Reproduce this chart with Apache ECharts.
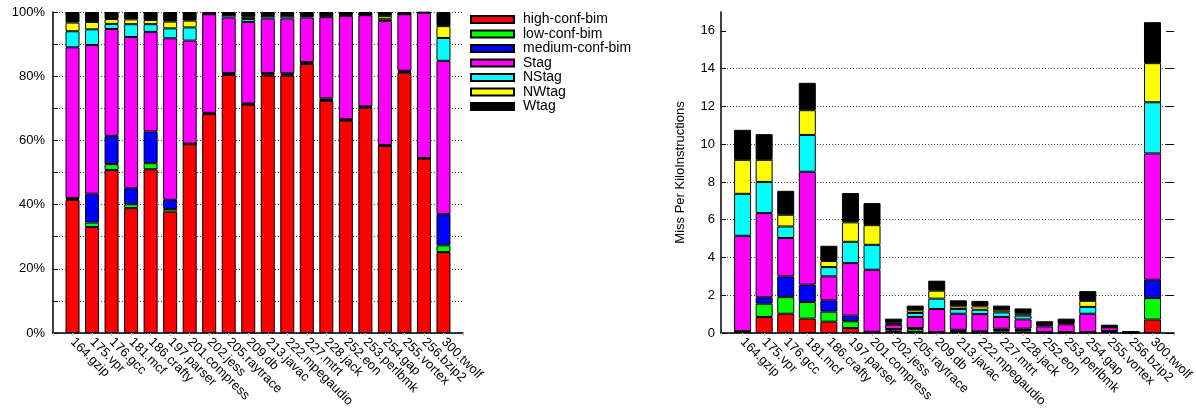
<!DOCTYPE html>
<html>
<head>
<meta charset="utf-8">
<script src="https://cdn.jsdelivr.net/npm/echarts@6/dist/echarts.min.js"></script>
<style>
html,body{margin:0;padding:0;background:#fff;}
#c{width:1196px;height:415px;}
</style>
</head>
<body>
<div id="c"></div>
<script>
// Categories (benchmarks)
const categories = ['164.gzip','175.vpr','176.gcc','181.mcf','186.crafty','197.parser','201.compress','202.jess','205.raytrace','209.db','213.javac','222.mpegaudio','227.mtrt','228.jack','252.eon','253.perlbmk','254.gap','255.vortex','256.bzip2','300.twolf'];

const seriesNames = ['high-conf-bim','low-conf-bim','medium-conf-bim','Stag','NStag','NWtag','Wtag'];
const seriesColors = ['#ff0000','#00ff00','#0000ff','#ff00ff','#00ffff','#ffff00','#000000'];

// Left chart: percentage breakdown (%)
const pctHighConfBim   = [41.5,33.0,50.8,38.9,51.0,37.8,58.8,68.2,80.4,71.1,80.2,80.2,83.8,72.3,66.2,70.2,58.3,81.1,54.3,25.2];
const pctLowConfBim    = [0.3,1.4,1.8,1.2,1.9,0.8,0.1,0.2,0.2,0.2,0.3,0.3,0.3,0.2,0.2,0.2,0.1,0.3,0.1,2.1];
const pctMediumConfBim = [0.2,9.0,8.8,5.0,9.9,2.9,0.1,0.2,0.4,0.2,0.5,0.4,0.3,0.6,0.2,0.2,0.2,0.3,0.1,9.7];
const pctStag          = [47.0,46.3,33.3,47.1,31.0,50.3,32.1,30.7,17.3,25.4,17.0,17.1,13.9,25.3,32.2,28.4,38.6,17.6,45.3,47.8];
const pctNStag         = [5.0,4.9,1.6,4.0,2.4,3.1,4.1,0.1,0.8,0.9,0.8,0.8,0.5,0.6,0.3,0.2,0.7,0.1,0.0,7.1];
const pctNWtag         = [2.7,2.3,1.5,1.5,1.3,2.1,2.1,0.1,0.1,0.7,0.2,0.2,0.1,0.1,0.1,0.1,0.9,0.1,0.0,3.7];
const pctWtag          = [3.3,3.1,2.2,2.3,2.5,3.0,2.7,0.5,0.8,1.5,1.0,1.0,1.1,0.9,0.8,0.7,1.2,0.5,0.2,4.4];

// Right chart: misses per kilo-instructions
const mpkiHighConfBim   = [0.05,0.85,1.02,0.76,0.60,0.26,0.02,0.05,0.05,0.03,0.06,0.03,0.08,0.08,0.02,0.02,0.02,0.05,0.01,0.71];
const mpkiLowConfBim    = [0.02,0.70,0.88,0.88,0.53,0.36,0.02,0.08,0.15,0.01,0.05,0.03,0.08,0.07,0.01,0.01,0.01,0.03,0.00,1.14];
const mpkiMediumConfBim = [0.03,0.34,1.10,0.92,0.60,0.30,0.02,0.08,0.06,0.01,0.06,0.03,0.07,0.08,0.02,0.02,0.02,0.03,0.00,0.97];
const mpkiStag          = [5.05,4.46,2.03,5.98,1.27,2.78,3.29,0.23,0.59,1.22,0.85,0.91,0.62,0.49,0.30,0.41,0.97,0.19,0.03,6.69];
const mpkiNStag         = [2.22,1.65,0.61,1.95,0.49,1.13,1.32,0.06,0.21,0.55,0.25,0.23,0.24,0.20,0.07,0.06,0.36,0.02,0.01,2.71];
const mpkiNWtag         = [1.80,1.17,0.62,1.31,0.32,1.03,1.04,0.05,0.14,0.42,0.14,0.18,0.11,0.10,0.03,0.02,0.32,0.01,0.00,2.07];
const mpkiWtag          = [1.59,1.36,1.27,1.45,0.81,1.55,1.17,0.21,0.25,0.53,0.32,0.29,0.25,0.28,0.17,0.22,0.52,0.11,0.03,2.17];

// Tick labels
const pctTickValues = [0,20,40,60,80,100];
const mpkiTickValues = [0,2,4,6,8,10,12,14,16];
const yTitleRight = 'Miss Per KiloInstructions';

const leftData = [pctHighConfBim,pctLowConfBim,pctMediumConfBim,pctStag,pctNStag,pctNWtag,pctWtag];
const rightData = [mpkiHighConfBim,mpkiLowConfBim,mpkiMediumConfBim,mpkiStag,mpkiNStag,mpkiNWtag,mpkiWtag];

// the x range spans one empty slot before the first and after the last benchmark
const axisCategories = [''].concat(categories, ['']);

const FONT = 'Liberation Sans, Arial, Helvetica, sans-serif';
const gridDot = {color:'#444', width:1, type:[1,2]};

function xAxisFor(gi){
  return {
    type:'category', gridIndex:gi, data:axisCategories, boundaryGap:false,
    axisLine:{show:true, onZero:false, lineStyle:{color:'#000', width:1.5}},
    axisTick:{show:true, length:3, interval:0, lineStyle:{color:'#bbb'}},
    axisLabel:{rotate:-45, fontSize:13, color:'#000', margin:7, fontFamily:FONT, interval:0},
    splitLine:{show:false}
  };
}

const series = [];
seriesNames.forEach((name, k)=>{
  series.push({
    name, type:'bar', xAxisIndex:0, yAxisIndex:0, stack:'L', barWidth:14,
    itemStyle:{color:seriesColors[k], borderColor:'#000', borderWidth:1},
    data: leftData[k].map((v,i)=>[i+1,v])
  });
});
seriesNames.forEach((name, k)=>{
  series.push({
    name, type:'bar', xAxisIndex:1, yAxisIndex:1, stack:'R', barWidth:17,
    itemStyle:{color:seriesColors[k], borderColor:'#000', borderWidth:1},
    data: rightData[k].map((v,i)=>[i+1,v])
  });
});

const chart = echarts.init(document.getElementById('c'), null, {renderer:'canvas'});
chart.setOption({
  animation:false,
  backgroundColor:'#fff',
  textStyle:{fontFamily:FONT},
  legend:{
    data:seriesNames, orient:'vertical', left:470, top:12.5, padding:0,
    itemWidth:43, itemHeight:7, itemGap:0.5, icon:'rect', selectedMode:false,
    textStyle:{fontSize:14, lineHeight:13, color:'#000', fontFamily:FONT, padding:[0,0,0,4]}
  },
  grid:[
    {left:53, top:12, width:410, height:321},
    {left:721, top:12, width:459, height:321}
  ],
  xAxis:[xAxisFor(0), xAxisFor(1)],
  yAxis:[
    {
      type:'value', gridIndex:0, min:0, max:100, interval:10,
      axisLine:{show:true, onZero:false, lineStyle:{color:'#000', width:1.5}},
      axisTick:{show:true, inside:true, length:5, lineStyle:{color:'#000'}},
      axisLabel:{fontSize:13, color:'#000', margin:8, fontFamily:FONT,
        formatter:(v)=> (pctTickValues.indexOf(v) >= 0 ? v + '%' : '')},
      splitLine:{show:true, lineStyle:gridDot}
    },
    {
      type:'value', gridIndex:1, min:0, max:17, interval:2,
      name:yTitleRight, nameLocation:'middle', nameGap:34, nameRotate:90,
      nameTextStyle:{fontSize:13, color:'#000', fontFamily:FONT},
      axisLine:{show:true, onZero:false, lineStyle:{color:'#000', width:1.5}},
      axisTick:{show:true, inside:true, length:5, lineStyle:{color:'#000'}, customValues:mpkiTickValues},
      axisLabel:{fontSize:13, color:'#000', margin:6, fontFamily:FONT, showMaxLabel:false,
        formatter:(v)=> (mpkiTickValues.indexOf(v) >= 0 ? String(v) : '')},
      splitLine:{show:true, showMaxLine:false, lineStyle:gridDot}
    },
    {
      type:'value', gridIndex:1, min:0, max:17, interval:2, position:'right',
      axisLine:{show:false, onZero:false},
      axisTick:{show:true, inside:true, length:8, lineStyle:{color:'#000'}, customValues:mpkiTickValues},
      axisLabel:{show:false},
      splitLine:{show:false}
    }
  ],
  series
});
</script>
</body>
</html>
